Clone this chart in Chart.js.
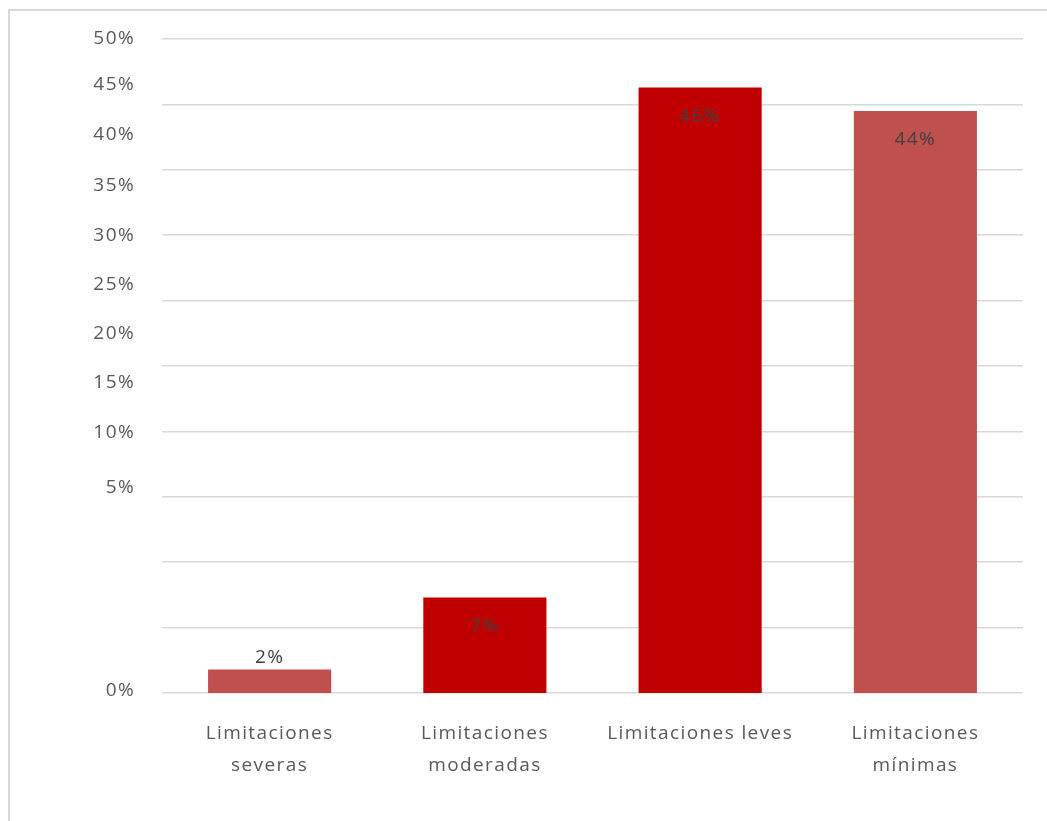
<!DOCTYPE html>
<html>
<head>
<meta charset="utf-8">
<script src="https://cdn.jsdelivr.net/npm/chart.js@4"></script>
<style>
  html, body { margin: 0; padding: 0; background: #fff; }
  #wrap { position: relative; width: 1047px; height: 821px; }
  #frame { position: absolute; left: 8px; top: 9px; right: -2px; bottom: -2px;
           border-top: 2px solid #d9d9d9; border-left: 2px solid #d9d9d9; }
  canvas { position: absolute; left: 0; top: 0; }
</style>
</head>
<body>
<div id="wrap">
  <div id="frame"></div>
  <canvas id="myChart" width="1047" height="821"></canvas>
</div>
<script>
const categorias = [
    ['Limitaciones', 'severas'],
    ['Limitaciones', 'moderadas'],
    'Limitaciones leves',
    ['Limitaciones', 'mínimas']
];
const porcentajes = [1.8, 7.3, 46.3, 44.5];
const etiquetas = ['2%', '7%', '46%', '44%'];
const colores = ['#c0504d', '#c00000', '#c00000', '#c0504d'];

// tick labels on the y axis, and where the original chart puts them (in % units)
const yTickLabels = ['0%', '5%', '10%', '15%', '20%', '25%', '30%', '35%', '40%', '45%', '50%'];
const yTickAt = [0.2, 15.7, 19.9, 23.7, 27.5, 31.2, 35.0, 38.8, 42.7, 46.5, 50];

const fuente = '"Open Sans", "Noto Sans", sans-serif';

// Excel-style spaced text
const espaciado = {
    id: 'espaciado',
    beforeDraw(chart) {
        chart.ctx.letterSpacing = '1.4px';
    }
};

const etiquetasDatos = {
    id: 'etiquetasDatos',
    afterDatasetsDraw(chart) {
        const ctx = chart.ctx;
        const meta = chart.getDatasetMeta(0);
        const base = chart.scales.y.getPixelForValue(0);
        ctx.save();
        ctx.font = '19px ' + fuente;
        ctx.fillStyle = '#404040';
        ctx.textAlign = 'center';
        ctx.textBaseline = 'middle';
        meta.data.forEach((bar, i) => {
            const alto = base - bar.y;
            const y = alto < 40 ? bar.y - 12 : bar.y + 29;
            ctx.fillText(etiquetas[i], bar.x, y);
        });
        ctx.restore();
    }
};

window.onload = () => {
    const ctx = document.getElementById('myChart').getContext('2d');
    new Chart(ctx, {
        type: 'bar',
        data: {
            labels: categorias,
            datasets: [{
                data: porcentajes,
                backgroundColor: colores,
                borderWidth: 0,
                categoryPercentage: 1,
                barPercentage: 0.572
            }]
        },
        plugins: [espaciado, etiquetasDatos],
        options: {
            responsive: false,
            animation: false,
            layout: { padding: { left: 0, top: 39, right: 24, bottom: 0 } },
            plugins: {
                legend: { display: false },
                tooltip: { enabled: false }
            },
            scales: {
                x: {
                    grid: { display: false, drawTicks: false },
                    border: { display: false },
                    ticks: {
                        color: '#595959',
                        font: { family: fuente, size: 19, lineHeight: 1.68 },
                        padding: 25,
                        maxRotation: 0,
                        autoSkip: false
                    },
                    afterFit: s => { s.height = 128; }
                },
                y: {
                    min: 0,
                    max: 50,
                    position: 'left',
                    grid: { display: false, drawTicks: false },
                    border: { display: false },
                    afterBuildTicks: s => { s.ticks = yTickAt.map(v => ({ value: v })); },
                    ticks: {
                        color: '#595959',
                        font: { family: fuente, size: 19 },
                        padding: 27,
                        callback: (v, i) => yTickLabels[i]
                    },
                    afterFit: s => { s.width = 162; }
                },
                yGrid: {
                    min: 0,
                    max: 50,
                    position: 'right',
                    grid: { color: '#d9d9d9', lineWidth: 1.6, drawTicks: false },
                    border: { display: false },
                    ticks: { display: false, stepSize: 5 },
                    afterFit: s => { s.width = 0; }
                }
            }
        }
    });
};
</script>
</body>
</html>
